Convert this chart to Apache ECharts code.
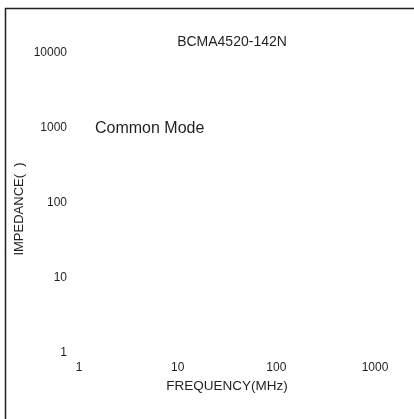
<!DOCTYPE html>
<html>
<head>
<meta charset="utf-8">
<script src="https://cdn.jsdelivr.net/npm/echarts@6/dist/echarts.min.js"></script>
<style>html,body{margin:0;padding:0;background:#fff}#c{width:414px;height:419px}</style>
</head>
<body>
<div id="c"></div>
<script>
var chartTitle = 'BCMA4520-142N';
var seriesName = 'Common Mode';
var xAxisName = 'FREQUENCY(MHz)';
var yAxisName = 'IMPEDANCE(\u00a0\u00a0)';
var xRange = [1, 1000];
var yRange = [1, 10000];
var commonModeData = [];

var chart = echarts.init(document.getElementById('c'), null, {renderer: 'canvas'});
var txt = '#231f20';
var font = 'Liberation Sans, Arial, sans-serif';
function plain(v) { return String(Math.round(v)); }
chart.setOption({
  animation: false,
  backgroundColor: '#fff',
  textStyle: {fontFamily: font},
  title: {
    text: chartTitle, left: 227, top: 30, textAlign: 'center',
    textStyle: {fontSize: 14, fontWeight: 'normal', color: txt, fontFamily: font}
  },
  grid: {left: 79, right: 39, top: 53, bottom: 66, outerBoundsMode: 'none', containLabel: false},
  xAxis: {
    type: 'log', logBase: 10, min: xRange[0], max: xRange[1],
    name: xAxisName, nameLocation: 'middle', nameGap: 25,
    nameTextStyle: {fontSize: 13.5, color: txt, fontFamily: font},
    axisLine: {show: false}, axisTick: {show: false}, splitLine: {show: false},
    axisLabel: {fontSize: 12, color: txt, margin: 9, fontFamily: font, formatter: plain}
  },
  yAxis: {
    type: 'log', logBase: 10, min: yRange[0], max: yRange[1],
    axisLine: {show: false}, axisTick: {show: false}, splitLine: {show: false},
    axisLabel: {fontSize: 12, color: txt, margin: 12, fontFamily: font, formatter: plain}
  },
  graphic: [
    {type: 'polyline', shape: {points: [[5.5, 430], [5.5, 8.5], [430, 8.5]]},
     style: {stroke: txt, lineWidth: 1.5, fill: null}, silent: true},
    {type: 'text', x: 95, y: 129, style: {text: seriesName, fill: txt, font: '16px Liberation Sans, Arial, sans-serif', textVerticalAlign: 'middle'}},
    {type: 'text', x: 19, y: 209, rotation: Math.PI / 2,
     style: {text: yAxisName, fill: txt, font: '13px Liberation Sans, Arial, sans-serif', textAlign: 'center', textVerticalAlign: 'middle'}}
  ],
  series: [{name: seriesName, type: 'line', data: commonModeData, showSymbol: false}]
});
</script>
</body>
</html>
